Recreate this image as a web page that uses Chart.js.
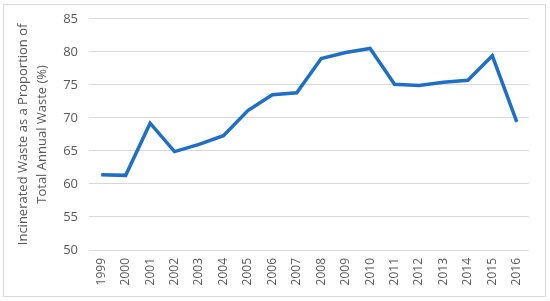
<!DOCTYPE html>
<html>
<head>
<meta charset="utf-8">
<script src="https://cdn.jsdelivr.net/npm/chart.js@4.4.0/dist/chart.umd.min.js"></script>
<style>
  body { margin: 0; background: #fff; }
  #wrap { position: relative; width: 550px; height: 301px; }
  #frame { position: absolute; left: 3px; top: 4px; width: 541px; height: 291px; border: 1px solid #d9d9d9; }
  canvas { position: absolute; left: 0; top: 0; }
</style>
</head>
<body>
<div id="wrap">
  <div id="frame"></div>
  <canvas id="mychart" width="550" height="301"></canvas>
</div>
<script>
const years = ['1999', '2000', '2001', '2002', '2003', '2004', '2005', '2006', '2007',
               '2008', '2009', '2010', '2011', '2012', '2013', '2014', '2015', '2016'];
const incinerated = [61.4, 61.3, 69.2, 64.9, 66.0, 67.3, 71.1, 73.5, 73.8,
                     79.0, 79.9, 80.5, 75.1, 74.9, 75.4, 75.7, 79.4, 69.4];
const yTicks = [50, 55, 60, 65, 70, 75, 80, 85];

const grey = '#595959';
const ctx = document.getElementById('mychart');
const chart = new Chart(ctx, {
    type: 'line',
    data: {
        labels: years,
        datasets: [{
            label: 'Incinerated waste',
            data: incinerated,
            borderColor: '#1f6fc6',
            borderWidth: 3.5,
            pointRadius: 0,
            tension: 0,
            fill: false
        }]
    },
    options: {
        responsive: false,
        animation: false,
        layout: {
            padding: { left: 14, right: 21, top: 15, bottom: 10 }
        },
        plugins: {
            legend: { display: false },
            tooltip: { enabled: false }
        },
        scales: {
            x: {
                offset: true,
                grid: { display: false, drawTicks: false, offset: true },
                border: { display: false },
                ticks: {
                    color: grey,
                    font: { family: 'Open Sans', size: 12 },
                    minRotation: 90,
                    maxRotation: 90,
                    padding: 8,
                    autoSkip: false
                },
                afterFit: function (scale) { scale.height = 41; }
            },
            y: {
                min: 50,
                max: 85,
                afterBuildTicks: function (scale) {
                    scale.ticks = yTicks.map(v => ({ value: v }));
                },
                grid: { color: '#d9d9d9', lineWidth: 1, drawTicks: false },
                border: { display: false },
                ticks: {
                    color: grey,
                    font: { family: 'Open Sans', size: 13 },
                    padding: 11
                },
                title: {
                    display: true,
                    text: ['Incinerated Waste as a Proportion of', 'Total Annual Waste (%)'],
                    color: grey,
                    font: { family: 'Open Sans', size: 13, lineHeight: 1.45 },
                    padding: { top: 0, bottom: 6 }
                },
                afterFit: function (scale) { scale.width = 75; }
            }
        }
    }
});
</script>
</body>
</html>
